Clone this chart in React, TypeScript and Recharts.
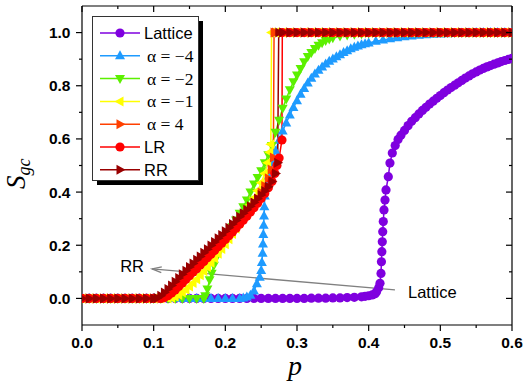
import { LineChart, Line, XAxis, YAxis, ReferenceLine, Legend } from 'recharts'

// tick positions (major ones get labels)
const pTicks = [0, 0.05, 0.1, 0.15, 0.2, 0.25, 0.3, 0.35, 0.4, 0.45, 0.5, 0.55, 0.6]
const sTicks = [0, 0.1, 0.2, 0.3, 0.4, 0.5, 0.6, 0.7, 0.8, 0.9, 1.0]

const seriesNames = ['Lattice', 'α = −4', 'α = −2', 'α = −1', 'α = 4', 'LR', 'RR']

// [p, S_gc] pairs
const lattice = [
  [0, 0], [0.01, 0], [0.02, 0], [0.03, 0], [0.04, 0], [0.05, 0], [0.06, 0], [0.07, 0], [0.08, 0], [0.09, 0],
  [0.1, 0], [0.11, 0], [0.12, 0], [0.13, 0], [0.14, 0], [0.15, 0], [0.16, 0], [0.17, 0], [0.18, 0], [0.19, 0],
  [0.2, 0], [0.21, 0], [0.22, 0], [0.23, 0], [0.24, 0], [0.25, 0], [0.26, 0], [0.27, 0], [0.28, 0], [0.29, 0],
  [0.3, 0], [0.31, 0], [0.32, 0.001], [0.33, 0.001], [0.34, 0.001], [0.35, 0.002], [0.36, 0.002], [0.37, 0.003],
  [0.38, 0.004], [0.39, 0.006], [0.395, 0.008], [0.4, 0.01], [0.405, 0.013], [0.409, 0.018], [0.411, 0.025],
  [0.414, 0.04], [0.4158, 0.057], [0.4172, 0.094], [0.4178, 0.138], [0.4184, 0.176], [0.419, 0.213],
  [0.4196, 0.251], [0.4204, 0.289], [0.4214, 0.333], [0.4228, 0.37], [0.4242, 0.408], [0.4274, 0.458],
  [0.4297, 0.509], [0.433, 0.547], [0.437, 0.575], [0.441, 0.598], [0.445, 0.614], [0.45, 0.632],
  [0.455, 0.65], [0.46, 0.666], [0.465, 0.68], [0.47, 0.694], [0.475, 0.707], [0.48, 0.719], [0.485, 0.731],
  [0.49, 0.742], [0.495, 0.753], [0.5, 0.763], [0.505, 0.774], [0.51, 0.784], [0.515, 0.793], [0.52, 0.802],
  [0.525, 0.811], [0.53, 0.82], [0.535, 0.829], [0.54, 0.837], [0.545, 0.845], [0.55, 0.852], [0.555, 0.859],
  [0.56, 0.865], [0.565, 0.871], [0.57, 0.876], [0.575, 0.881], [0.58, 0.886], [0.585, 0.891], [0.59, 0.895],
  [0.595, 0.899], [0.6, 0.903],
]

const alphaM4 = [
  [0, 0], [0.01, 0], [0.02, 0], [0.03, 0], [0.04, 0], [0.05, 0], [0.06, 0], [0.07, 0], [0.08, 0], [0.09, 0],
  [0.1, 0], [0.11, 0], [0.12, 0], [0.13, 0], [0.14, 0], [0.15, 0], [0.16, 0], [0.17, 0], [0.18, 0], [0.19, 0],
  [0.2, 0], [0.21, 0], [0.22, 0], [0.225, 0.002], [0.23, 0.005], [0.235, 0.012], [0.24, 0.028], [0.244, 0.055],
  [0.248, 0.08], [0.25, 0.105], [0.251, 0.135], [0.252, 0.17], [0.2525, 0.205], [0.253, 0.24], [0.2535, 0.275],
  [0.254, 0.31], [0.2545, 0.345], [0.255, 0.385], [0.257, 0.42], [0.26, 0.46], [0.265, 0.51], [0.27, 0.555],
  [0.275, 0.595], [0.28, 0.63], [0.285, 0.66], [0.29, 0.69], [0.295, 0.718], [0.3, 0.744], [0.305, 0.768],
  [0.31, 0.79], [0.315, 0.81], [0.32, 0.828], [0.325, 0.844], [0.33, 0.858], [0.335, 0.871], [0.34, 0.882],
  [0.345, 0.892], [0.35, 0.901], [0.355, 0.909], [0.36, 0.917], [0.365, 0.925], [0.37, 0.932], [0.375, 0.939],
  [0.38, 0.945], [0.385, 0.95], [0.39, 0.954], [0.395, 0.958], [0.4, 0.961], [0.41, 0.967], [0.42, 0.972],
  [0.43, 0.977], [0.44, 0.981], [0.45, 0.984], [0.46, 0.987], [0.47, 0.99], [0.48, 0.992], [0.49, 0.994],
  [0.5, 0.995], [0.51, 0.996], [0.52, 0.997], [0.53, 0.998], [0.54, 0.999], [0.55, 1], [0.56, 1], [0.57, 1],
  [0.58, 1], [0.59, 1], [0.6, 1],
]

const alphaM2 = [
  [0, 0], [0.01, 0], [0.02, 0], [0.03, 0], [0.04, 0], [0.05, 0], [0.06, 0], [0.07, 0], [0.08, 0], [0.09, 0],
  [0.1, 0], [0.11, 0], [0.12, 0], [0.13, 0], [0.14, 0], [0.15, 0], [0.16, 0], [0.17, 0], [0.172, 0.01],
  [0.175, 0.035], [0.178, 0.07], [0.181, 0.095], [0.184, 0.125], [0.188, 0.157], [0.192, 0.18], [0.196, 0.2],
  [0.2, 0.22], [0.205, 0.245], [0.21, 0.27], [0.215, 0.295], [0.22, 0.32], [0.225, 0.345], [0.23, 0.37],
  [0.235, 0.4], [0.24, 0.43], [0.245, 0.455], [0.25, 0.48], [0.255, 0.51], [0.26, 0.54], [0.265, 0.575],
  [0.27, 0.625], [0.275, 0.67], [0.28, 0.715], [0.285, 0.75], [0.29, 0.785], [0.295, 0.815], [0.3, 0.84],
  [0.305, 0.865], [0.31, 0.89], [0.315, 0.91], [0.32, 0.925], [0.325, 0.94], [0.33, 0.952], [0.335, 0.962],
  [0.34, 0.97], [0.345, 0.976], [0.35, 0.981], [0.36, 0.987], [0.37, 0.991], [0.38, 0.994], [0.39, 0.996],
  [0.4, 0.998], [0.41, 1], [0.42, 1], [0.43, 1], [0.44, 1], [0.45, 1], [0.46, 1], [0.47, 1], [0.48, 1],
  [0.49, 1], [0.5, 1], [0.51, 1], [0.52, 1], [0.53, 1], [0.54, 1], [0.55, 1], [0.56, 1], [0.57, 1], [0.58, 1],
  [0.59, 1], [0.6, 1],
]

const alphaM1 = [
  [0, 0], [0.01, 0], [0.02, 0], [0.03, 0], [0.04, 0], [0.05, 0], [0.06, 0], [0.07, 0], [0.08, 0], [0.09, 0],
  [0.1, 0], [0.11, 0], [0.12, 0], [0.125, 0.002], [0.13, 0.006], [0.135, 0.013], [0.14, 0.022], [0.145, 0.033],
  [0.15, 0.045], [0.155, 0.058], [0.16, 0.072], [0.165, 0.087], [0.17, 0.102], [0.175, 0.118], [0.18, 0.134],
  [0.185, 0.151], [0.19, 0.168], [0.195, 0.186], [0.2, 0.204], [0.205, 0.223], [0.21, 0.242], [0.215, 0.262],
  [0.22, 0.283], [0.225, 0.305], [0.23, 0.328], [0.235, 0.352], [0.24, 0.378], [0.245, 0.405], [0.25, 0.435],
  [0.255, 0.47], [0.259, 0.51], [0.262, 0.55], [0.2635, 0.58], [0.2645, 1], [0.27, 1], [0.28, 1], [0.29, 1],
  [0.3, 1], [0.31, 1], [0.32, 1], [0.33, 1], [0.34, 1], [0.35, 1], [0.36, 1], [0.37, 1], [0.38, 1], [0.39, 1],
  [0.4, 1], [0.41, 1], [0.42, 1], [0.43, 1], [0.44, 1], [0.45, 1], [0.46, 1], [0.47, 1], [0.48, 1], [0.49, 1],
  [0.5, 1], [0.51, 1], [0.52, 1], [0.53, 1], [0.54, 1], [0.55, 1], [0.56, 1], [0.57, 1], [0.58, 1], [0.59, 1],
  [0.6, 1],
]

const alpha4 = [
  [0, 0], [0.01, 0], [0.02, 0], [0.03, 0], [0.04, 0], [0.05, 0], [0.06, 0], [0.07, 0], [0.08, 0], [0.09, 0],
  [0.1, 0], [0.11, 0], [0.115, 0.002], [0.12, 0.008], [0.125, 0.018], [0.13, 0.03], [0.135, 0.043], [0.14, 0.056],
  [0.145, 0.07], [0.15, 0.084], [0.155, 0.098], [0.16, 0.112], [0.165, 0.126], [0.17, 0.14], [0.175, 0.154],
  [0.18, 0.168], [0.185, 0.182], [0.19, 0.196], [0.195, 0.21], [0.2, 0.225], [0.205, 0.24], [0.21, 0.255],
  [0.215, 0.27], [0.22, 0.286], [0.225, 0.302], [0.23, 0.319], [0.235, 0.337], [0.24, 0.356], [0.245, 0.376],
  [0.25, 0.398], [0.255, 0.423], [0.26, 0.452], [0.264, 0.485], [0.267, 0.53], [0.268, 1], [0.27, 1], [0.28, 1],
  [0.29, 1], [0.3, 1], [0.31, 1], [0.32, 1], [0.33, 1], [0.34, 1], [0.35, 1], [0.36, 1], [0.37, 1], [0.38, 1],
  [0.39, 1], [0.4, 1], [0.41, 1], [0.42, 1], [0.43, 1], [0.44, 1], [0.45, 1], [0.46, 1], [0.47, 1], [0.48, 1],
  [0.49, 1], [0.5, 1], [0.51, 1], [0.52, 1], [0.53, 1], [0.54, 1], [0.55, 1], [0.56, 1], [0.57, 1], [0.58, 1],
  [0.59, 1], [0.6, 1],
]

const lr = [
  [0, 0], [0.01, 0], [0.02, 0], [0.03, 0], [0.04, 0], [0.05, 0], [0.06, 0], [0.07, 0], [0.08, 0], [0.09, 0],
  [0.1, 0], [0.11, 0], [0.115, 0.003], [0.12, 0.01], [0.125, 0.02], [0.13, 0.032], [0.135, 0.045], [0.14, 0.058],
  [0.145, 0.072], [0.15, 0.085], [0.155, 0.099], [0.16, 0.112], [0.165, 0.126], [0.17, 0.139], [0.175, 0.153],
  [0.18, 0.166], [0.185, 0.18], [0.19, 0.194], [0.195, 0.208], [0.2, 0.222], [0.205, 0.236], [0.21, 0.25],
  [0.215, 0.264], [0.22, 0.279], [0.225, 0.294], [0.23, 0.309], [0.235, 0.325], [0.24, 0.341], [0.245, 0.358],
  [0.25, 0.376], [0.255, 0.395], [0.26, 0.416], [0.265, 0.44], [0.269, 0.47], [0.272, 0.5], [0.275, 0.528],
  [0.279, 0.596], [0.2795, 1], [0.29, 1], [0.3, 1], [0.31, 1], [0.32, 1], [0.33, 1], [0.34, 1], [0.35, 1],
  [0.36, 1], [0.37, 1], [0.38, 1], [0.39, 1], [0.4, 1], [0.41, 1], [0.42, 1], [0.43, 1], [0.44, 1], [0.45, 1],
  [0.46, 1], [0.47, 1], [0.48, 1], [0.49, 1], [0.5, 1], [0.51, 1], [0.52, 1], [0.53, 1], [0.54, 1], [0.55, 1],
  [0.56, 1], [0.57, 1], [0.58, 1], [0.59, 1], [0.6, 1],
]

const rr = [
  [0, 0], [0.01, 0], [0.02, 0], [0.03, 0], [0.04, 0], [0.05, 0], [0.06, 0], [0.07, 0], [0.08, 0], [0.09, 0],
  [0.1, 0], [0.105, 0.002], [0.11, 0.01], [0.115, 0.022], [0.12, 0.035], [0.125, 0.049], [0.13, 0.063],
  [0.135, 0.077], [0.14, 0.091], [0.145, 0.104], [0.15, 0.118], [0.155, 0.131], [0.16, 0.145], [0.165, 0.158],
  [0.17, 0.172], [0.175, 0.185], [0.18, 0.199], [0.185, 0.212], [0.19, 0.226], [0.195, 0.239], [0.2, 0.253],
  [0.205, 0.266], [0.21, 0.28], [0.215, 0.293], [0.22, 0.307], [0.225, 0.32], [0.23, 0.334], [0.235, 0.347],
  [0.24, 0.361], [0.245, 0.375], [0.25, 0.389], [0.255, 0.404], [0.26, 0.42], [0.265, 0.44], [0.27, 0.47],
  [0.273, 0.51], [0.2745, 1], [0.28, 1], [0.29, 1], [0.3, 1], [0.31, 1], [0.32, 1], [0.33, 1], [0.34, 1],
  [0.35, 1], [0.36, 1], [0.37, 1], [0.38, 1], [0.39, 1], [0.4, 1], [0.41, 1], [0.42, 1], [0.43, 1], [0.44, 1],
  [0.45, 1], [0.46, 1], [0.47, 1], [0.48, 1], [0.49, 1], [0.5, 1], [0.51, 1], [0.52, 1], [0.53, 1], [0.54, 1],
  [0.55, 1], [0.56, 1], [0.57, 1], [0.58, 1], [0.59, 1], [0.6, 1],
]

// gray arrow: tail near "Lattice", head near "RR"  ([p, S])
const arrowTail = [0.4367, 0.032]
const arrowHead = [0.0977, 0.111]

const W = 526
const H = 385
const M = { top: 6, right: 14, bottom: 0, left: 0 }
const PLOT_TOP = M.top
const PLOT_RIGHT = W - M.right

const SERIF = 'Liberation Serif, Times New Roman, serif'
const SANS = 'Liberation Sans, Arial, sans-serif'

const toRows = (pts: number[][]) => pts.map(([p, s]) => ({ p, s }))

const SERIES = [
  { name: seriesNames[0], rows: toRows(lattice), color: '#7F00DF', shape: 'circle' },
  { name: seriesNames[1], rows: toRows(alphaM4), color: '#1E9BFF', shape: 'up' },
  { name: seriesNames[2], rows: toRows(alphaM2), color: '#5CF000', shape: 'down' },
  { name: seriesNames[3], rows: toRows(alphaM1), color: '#FFFF00', shape: 'left' },
  { name: seriesNames[4], rows: toRows(alpha4), color: '#FF4000', shape: 'right' },
  { name: seriesNames[5], rows: toRows(lr), color: '#FF0000', shape: 'circle' },
  { name: seriesNames[6], rows: toRows(rr), color: '#990000', shape: 'right' },
]

function Marker({ shape, cx, cy, color }: { shape: string; cx: number; cy: number; color: string }) {
  if (cx == null || cy == null) return null
  if (shape === 'circle') return <circle cx={cx} cy={cy} r={4.6} fill={color} />
  let pts = ''
  if (shape === 'up') pts = `${cx},${cy - 5.5} ${cx - 5},${cy + 3.5} ${cx + 5},${cy + 3.5}`
  if (shape === 'down') pts = `${cx},${cy + 5.5} ${cx - 5},${cy - 3.5} ${cx + 5},${cy - 3.5}`
  if (shape === 'left') pts = `${cx - 5.5},${cy} ${cx + 3.5},${cy - 5} ${cx + 3.5},${cy + 5}`
  if (shape === 'right') pts = `${cx + 5.5},${cy} ${cx - 3.5},${cy - 5} ${cx - 3.5},${cy + 5}`
  return <polygon points={pts} fill={color} />
}

const tickFont = { fontFamily: SANS, fontWeight: 700, fontSize: 15.5, fill: '#000' }

function BottomTick({ x, y, payload }: any) {
  const v = payload.value
  const major = Math.round(v * 100) % 10 === 0
  const len = major ? 6 : 3
  return (
    <g>
      <line x1={x} x2={x} y1={y} y2={y + len} stroke="#000" strokeWidth={1.2} />
      <line x1={x} x2={x} y1={PLOT_TOP} y2={PLOT_TOP + len} stroke="#000" strokeWidth={1.2} />
      {major && (
        <text x={x} y={y + 23} textAnchor="middle" {...tickFont}>
          {v.toFixed(1)}
        </text>
      )}
    </g>
  )
}

function LeftTick({ x, y, payload }: any) {
  const v = payload.value
  const major = Math.round(v * 10) % 2 === 0
  const len = major ? 6 : 3
  return (
    <g>
      <line x1={x - len} x2={x} y1={y} y2={y} stroke="#000" strokeWidth={1.2} />
      <line x1={PLOT_RIGHT - len} x2={PLOT_RIGHT} y1={y} y2={y} stroke="#000" strokeWidth={1.2} />
      {major && (
        <text x={x - 11.5} y={y + 5.5} textAnchor="end" {...tickFont}>
          {v.toFixed(1)}
        </text>
      )}
    </g>
  )
}

function XTitle() {
  return (
    <text x={295} y={375} textAnchor="middle" fontFamily={SERIF} fontStyle="italic" fontSize={28}>
      p
    </text>
  )
}

function YTitle() {
  return (
    <text transform="translate(25,189) rotate(-90)" fontFamily={SERIF} fontStyle="italic" fontSize={27}>
      S
      <tspan fontSize={18} dy={5}>gc</tspan>
    </text>
  )
}

function Arrow(props: any) {
  const { x1, y1, x2, y2 } = props
  const ang = Math.atan2(y1 - y2, x1 - x2)
  const len = 10
  const sp = 0.3
  const a = `${x2 + len * Math.cos(ang + sp)},${y2 + len * Math.sin(ang + sp)}`
  const b = `${x2 + len * Math.cos(ang - sp)},${y2 + len * Math.sin(ang - sp)}`
  const font = { fontFamily: SANS, fontSize: 16.5, fill: '#000' }
  return (
    <g>
      <line x1={x1} y1={y1} x2={x2} y2={y2} stroke="#808080" strokeWidth={1.3} />
      <polyline points={`${a} ${x2},${y2} ${b}`} fill="none" stroke="#808080" strokeWidth={1.3} />
      <text x={x2 - 8} y={y2 + 3} textAnchor="end" {...font}>RR</text>
      <text x={x1 + 13} y={y1 + 8} {...font}>Lattice</text>
    </g>
  )
}

function LegendBox() {
  return (
    <svg width={113} height={171} style={{ display: 'block' }}>
      <rect x={5} y={5} width={106} height={164} fill="#000" />
      <rect x={0.5} y={0.5} width={106} height={164} fill="#fff" stroke="#333" />
      {SERIES.map((s, i) => {
        const cy = 17 + i * 22.8
        const isAlpha = s.name.startsWith('α')
        return (
          <g key={s.name}>
            <line x1={8} x2={48} y1={cy} y2={cy} stroke={s.color} strokeWidth={1.5} />
            <Marker shape={s.shape} cx={28} cy={cy} color={s.color} />
            <text
              x={isAlpha ? 55 : 52}
              y={cy + 6}
              fontFamily={isAlpha ? SERIF : SANS}
              fontSize={isAlpha ? 17.5 : 16.5}
              fill="#000"
            >
              {s.name}
            </text>
          </g>
        )
      })}
    </svg>
  )
}

export default function App() {
  return (
    <div style={{ position: 'absolute', left: 0, top: 0, background: '#fff' }}>
      <LineChart width={W} height={H} margin={M}>
        <XAxis
          dataKey="p"
          type="number"
          domain={[0, 0.6]}
          ticks={pTicks}
          interval={0}
          allowDataOverflow
          height={60}
          tickSize={0}
          tickMargin={0}
          tickLine={false}
          tick={<BottomTick />}
          axisLine={{ stroke: '#000', strokeWidth: 1.2 }}
          label={<XTitle />}
        />
        <YAxis
          type="number"
          domain={[-0.1, 1.1]}
          ticks={sTicks}
          interval={0}
          allowDataOverflow
          width={82}
          tickSize={0}
          tickMargin={0}
          tickLine={false}
          tick={<LeftTick />}
          axisLine={{ stroke: '#000', strokeWidth: 1.2 }}
          label={<YTitle />}
        />
        <ReferenceLine y={1.1} stroke="#000" strokeWidth={1.2} />
        <ReferenceLine x={0.6} stroke="#000" strokeWidth={1.2} />
        {SERIES.map((s) => (
          <Line
            key={s.name}
            name={s.name}
            data={s.rows}
            dataKey="s"
            type="linear"
            stroke={s.color}
            strokeWidth={1.5}
            isAnimationActive={false}
            activeDot={false}
            dot={(props: any) => (
              <Marker key={`${s.name}-${props.index}`} shape={s.shape} cx={props.cx} cy={props.cy} color={s.color} />
            )}
          />
        ))}
        <ReferenceLine
          segment={[
            { x: arrowTail[0], y: arrowTail[1] },
            { x: arrowHead[0], y: arrowHead[1] },
          ]}
          shape={<Arrow />}
        />
        <Legend
          layout="vertical"
          align="center"
          verticalAlign="middle"
          wrapperStyle={{ left: 92, top: 16, width: 'auto', lineHeight: 0 }}
          content={<LegendBox />}
        />
      </LineChart>
    </div>
  )
}
